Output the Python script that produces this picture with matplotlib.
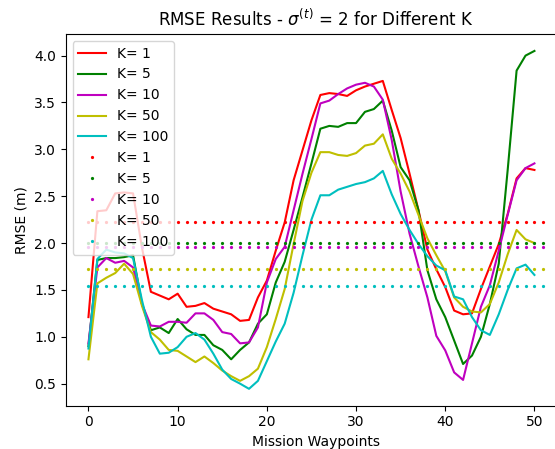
import matplotlib
matplotlib.use("Agg")
import matplotlib.pyplot as plt
import numpy as np

waypoints = list(range(51))
mean_x = list(range(52))
k_values = [1, 5, 10, 50, 100]
colors = ['r', 'g', 'm', 'y', 'c']

rmse_k1 = [1.21, 2.34, 2.35, 2.53, 2.54, 2.53, 1.95, 1.48, 1.44, 1.40,
           1.46, 1.32, 1.33, 1.36, 1.30, 1.27, 1.24, 1.17, 1.18, 1.42,
           1.60, 1.92, 2.22, 2.67, 2.99, 3.31, 3.58, 3.60, 3.59, 3.57,
           3.63, 3.67, 3.70, 3.73, 3.42, 3.12, 2.74, 2.35, 1.93, 1.72,
           1.53, 1.28, 1.24, 1.25, 1.51, 1.75, 1.99, 2.31, 2.69, 2.80, 2.78]
rmse_k5 = [0.90, 1.82, 1.84, 1.84, 1.85, 1.87, 1.35, 1.07, 1.10, 1.04,
           1.19, 1.08, 1.02, 1.02, 0.91, 0.86, 0.76, 0.86, 0.94, 1.14,
           1.24, 1.58, 1.80, 2.14, 2.49, 2.85, 3.22, 3.25, 3.24, 3.28,
           3.28, 3.40, 3.43, 3.52, 3.20, 2.81, 2.67, 2.35, 1.71, 1.40,
           1.21, 0.96, 0.71, 0.80, 1.00, 1.35, 1.78, 2.78, 3.84, 4.00, 4.05]
rmse_k10 = [0.93, 1.74, 1.84, 1.79, 1.81, 1.74, 1.35, 1.12, 1.11, 1.16,
            1.16, 1.15, 1.25, 1.25, 1.18, 1.05, 1.03, 0.93, 0.94, 1.10,
            1.58, 1.83, 1.96, 2.35, 2.74, 3.11, 3.49, 3.52, 3.59, 3.65,
            3.69, 3.71, 3.67, 3.53, 3.10, 2.55, 2.10, 1.75, 1.42, 1.01,
            0.855, 0.62, 0.54, 0.93, 1.32, 1.55, 1.92, 2.30, 2.67, 2.80, 2.85]
rmse_k50 = [0.76, 1.57, 1.63, 1.68, 1.78, 1.67, 1.33, 1.05, 0.97, 0.86,
            0.85, 0.79, 0.73, 0.79, 0.72, 0.64, 0.58, 0.53, 0.58, 0.66,
            0.89, 1.19, 1.51, 1.99, 2.45, 2.75, 2.97, 2.97, 2.94, 2.93,
            2.96, 3.04, 3.06, 3.16, 2.90, 2.74, 2.55, 2.30, 2.05, 1.87,
            1.70, 1.42, 1.32, 1.27, 1.26, 1.35, 1.58, 1.88, 2.14, 2.04, 2.00]
rmse_k100 = [0.875, 1.83, 1.93, 1.90, 1.89, 1.84, 1.39, 1.00, 0.82, 0.83,
             0.89, 1.00, 1.04, 0.97, 0.82, 0.65, 0.55, 0.50, 0.445, 0.53,
             0.74, 0.95, 1.14, 1.47, 1.87, 2.25, 2.51, 2.51, 2.57, 2.60,
             2.63, 2.65, 2.69, 2.77, 2.52, 2.31, 2.14, 1.99, 1.86, 1.76,
             1.71, 1.43, 1.40, 1.21, 1.07, 1.02, 1.24, 1.50, 1.73, 1.77, 1.66]
mean_rmse = [2.225, 2.0, 1.955, 1.72, 1.54]

series = [rmse_k1, rmse_k5, rmse_k10, rmse_k50, rmse_k100]

fig = plt.figure(figsize=(5.55, 4.49), dpi=100)
ax = fig.add_axes([0.1184, 0.0964, 0.9016, 0.8278])

for k, c, s in zip(k_values, colors, series):
    ax.plot(waypoints, s, color=c, label='K= ' + str(k))
for k, c, m in zip(k_values, colors, mean_rmse):
    ax.plot(mean_x, [m] * len(mean_x), '.', color=c, markersize=2.6,
            label='K= ' + str(k))

ax.set_title(r'RMSE Results - $\sigma^{(t)}$ = 2 for Different K')
ax.set_xlabel('Mission Waypoints')
ax.set_ylabel('RMSE (m)')
ax.legend(loc='upper left')

fig.savefig('out.png', dpi=100)
